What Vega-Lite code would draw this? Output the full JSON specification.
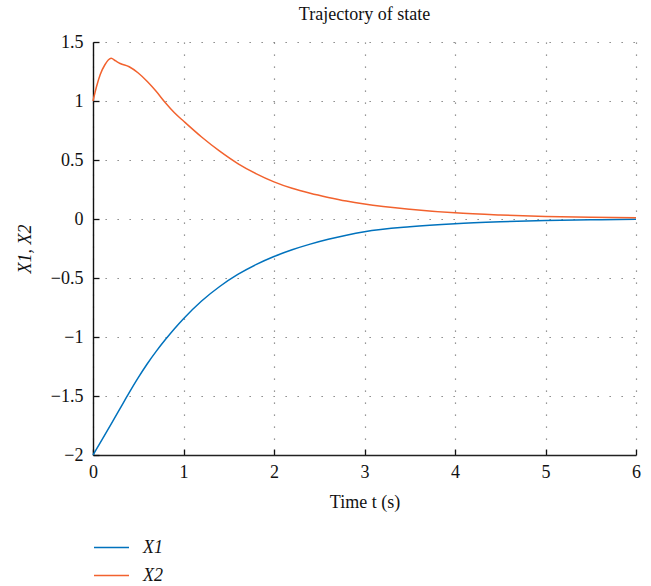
{
  "$schema": "https://vega.github.io/schema/vega-lite/v6.json",
  "width": 543,
  "height": 413,
  "autosize": {"type": "none"},
  "padding": {"left": 93, "top": 42, "right": 15, "bottom": 131},
  "title": {"text": "Trajectory of state", "font": "Liberation Serif", "fontSize": 18, "fontWeight": "normal", "color": "#111", "anchor": "middle", "offset": 9},
  "config": {"view": {"stroke": null}},
  "data": {"values": [
    {"t": 0, "v": -2.0, "s": "X1"},
    {"t": 0.1, "v": -1.87, "s": "X1"},
    {"t": 0.2, "v": -1.738, "s": "X1"},
    {"t": 0.3, "v": -1.605, "s": "X1"},
    {"t": 0.4, "v": -1.472, "s": "X1"},
    {"t": 0.5, "v": -1.345, "s": "X1"},
    {"t": 0.6, "v": -1.227, "s": "X1"},
    {"t": 0.7, "v": -1.12, "s": "X1"},
    {"t": 0.8, "v": -1.022, "s": "X1"},
    {"t": 0.9, "v": -0.93, "s": "X1"},
    {"t": 1.0, "v": -0.845, "s": "X1"},
    {"t": 1.2, "v": -0.695, "s": "X1"},
    {"t": 1.4, "v": -0.572, "s": "X1"},
    {"t": 1.6, "v": -0.47, "s": "X1"},
    {"t": 1.8, "v": -0.387, "s": "X1"},
    {"t": 2.0, "v": -0.318, "s": "X1"},
    {"t": 2.2, "v": -0.261, "s": "X1"},
    {"t": 2.4, "v": -0.213, "s": "X1"},
    {"t": 2.6, "v": -0.172, "s": "X1"},
    {"t": 2.8, "v": -0.137, "s": "X1"},
    {"t": 3.0, "v": -0.108, "s": "X1"},
    {"t": 3.5, "v": -0.066, "s": "X1"},
    {"t": 4.0, "v": -0.04, "s": "X1"},
    {"t": 4.5, "v": -0.024, "s": "X1"},
    {"t": 5.0, "v": -0.013, "s": "X1"},
    {"t": 5.5, "v": -0.007, "s": "X1"},
    {"t": 6.0, "v": -0.003, "s": "X1"},
    {"t": 0, "v": 1.0, "s": "X2"},
    {"t": 0.04, "v": 1.125, "s": "X2"},
    {"t": 0.08, "v": 1.225, "s": "X2"},
    {"t": 0.13, "v": 1.305, "s": "X2"},
    {"t": 0.2, "v": 1.362, "s": "X2"},
    {"t": 0.25, "v": 1.34, "s": "X2"},
    {"t": 0.3, "v": 1.318, "s": "X2"},
    {"t": 0.4, "v": 1.29, "s": "X2"},
    {"t": 0.5, "v": 1.237, "s": "X2"},
    {"t": 0.6, "v": 1.165, "s": "X2"},
    {"t": 0.7, "v": 1.08, "s": "X2"},
    {"t": 0.8, "v": 0.985, "s": "X2"},
    {"t": 0.9, "v": 0.9, "s": "X2"},
    {"t": 1.0, "v": 0.83, "s": "X2"},
    {"t": 1.2, "v": 0.695, "s": "X2"},
    {"t": 1.4, "v": 0.575, "s": "X2"},
    {"t": 1.6, "v": 0.47, "s": "X2"},
    {"t": 1.8, "v": 0.385, "s": "X2"},
    {"t": 2.0, "v": 0.315, "s": "X2"},
    {"t": 2.2, "v": 0.26, "s": "X2"},
    {"t": 2.4, "v": 0.218, "s": "X2"},
    {"t": 2.6, "v": 0.183, "s": "X2"},
    {"t": 2.8, "v": 0.152, "s": "X2"},
    {"t": 3.0, "v": 0.127, "s": "X2"},
    {"t": 3.5, "v": 0.083, "s": "X2"},
    {"t": 4.0, "v": 0.052, "s": "X2"},
    {"t": 4.5, "v": 0.034, "s": "X2"},
    {"t": 5.0, "v": 0.022, "s": "X2"},
    {"t": 5.5, "v": 0.015, "s": "X2"},
    {"t": 6.0, "v": 0.011, "s": "X2"}
  ]},
  "mark": {"type": "line", "strokeWidth": 1.5, "interpolate": "monotone"},
  "encoding": {
    "x": {"field": "t", "type": "quantitative",
      "scale": {"domain": [0, 6], "nice": false, "zero": false},
      "axis": {"title": "Time t (s)", "values": [0,1,2,3,4,5,6], "format": "d", "labelFlush": false,
        "titleFont": "Liberation Serif", "titleFontSize": 18, "titleFontWeight": "normal", "titleColor": "#111", "titlePadding": 12,
        "labelFont": "Liberation Serif", "labelFontSize": 18, "labelColor": "#111", "labelPadding": 14,
        "domainColor": "#222", "domainWidth": 1.4, "tickColor": "#111", "tickSize": -6, "tickWidth": 1.3,
        "grid": true, "gridColor": "#777", "gridDash": [1.3, 10.7], "gridWidth": 1.2}},
    "y": {"field": "v", "type": "quantitative",
      "scale": {"domain": [-2, 1.5], "nice": false, "zero": false},
      "axis": {"title": "X1, X2", "values": [-2,-1.5,-1,-0.5,0,0.5,1,1.5], "format": ".2~f", "labelFlush": false,
        "titleFont": "Liberation Serif", "titleFontSize": 18, "titleFontWeight": "normal", "titleFontStyle": "italic", "titleColor": "#111", "titlePadding": 16,
        "labelFont": "Liberation Serif", "labelFontSize": 18, "labelColor": "#111", "labelPadding": 16,
        "domainColor": "#111", "domainWidth": 1.4, "tickColor": "#111", "tickSize": -6, "tickWidth": 1.3,
        "grid": true, "gridColor": "#777", "gridDash": [1.3, 10.7], "gridWidth": 1.2}},
    "color": {"field": "s", "type": "nominal",
      "scale": {"domain": ["X1", "X2"], "range": ["#0072BD", "#F2622E"]},
      "legend": {"title": null, "orient": "none", "legendX": 0, "legendY": 487,
        "symbolType": "stroke", "symbolSize": 1225, "symbolStrokeWidth": 1.5,
        "labelFont": "Liberation Serif", "labelFontSize": 18, "labelFontStyle": "italic", "labelColor": "#111", "labelOffset": 13,
        "rowPadding": -8, "padding": 0}}
  }
}
